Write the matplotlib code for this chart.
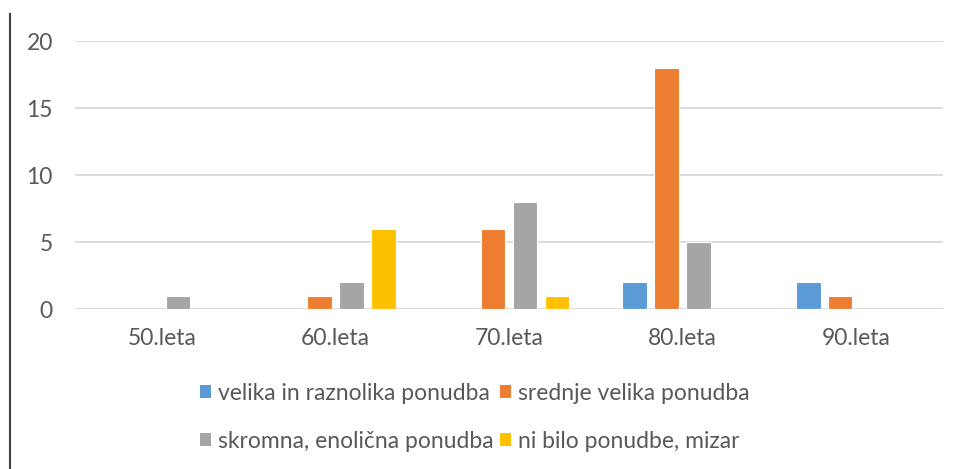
import matplotlib.pyplot as plt
import numpy as np
from matplotlib.patches import Patch
from matplotlib.lines import Line2D

categories = ["50.leta", "60.leta", "70.leta", "80.leta", "90.leta"]
series_names = ["velika in raznolika ponudba", "srednje velika ponudba",
                "skromna, enolična ponudba", "ni bilo ponudbe, mizar"]
velika = [0, 0, 0, 2, 2]
srednje = [0, 1, 6, 18, 1]
skromna = [1, 2, 8, 5, 0]
ni_bilo = [0, 6, 1, 0, 0]
colors = ["#5B9BD5", "#ED7D31", "#A5A5A5", "#FFC000"]

plt.rcParams['font.family'] = ['Lato', 'DejaVu Sans']
text_col = "#595959"

fig = plt.figure(figsize=(9.61, 4.69), dpi=100)
ax = fig.add_axes([75 / 961, 160 / 469, 868 / 961, 268 / 469])

x = np.arange(len(categories))
step = 0.184
width = 0.141
for i, vals in enumerate([velika, srednje, skromna, ni_bilo]):
    ax.bar(x + (i - 1.5) * step, vals, width, color=colors[i],
           edgecolor="white", linewidth=0.8, zorder=3)

ax.set_xlim(-0.5, len(categories) - 0.5)
ax.set_ylim(0, 20)
ax.set_yticks([0, 5, 10, 15, 20])
ax.set_xticks(x)
ax.set_xticklabels(categories)
ax.grid(axis="y", color="#D9D9D9", linewidth=1.3, zorder=0)
ax.set_axisbelow(True)
for s in ax.spines.values():
    s.set_visible(False)
ax.tick_params(length=0, labelsize=16.5, colors=text_col)
ax.tick_params(axis="y", pad=16)
ax.tick_params(axis="x", pad=14)

# legend: row-major order for 2 columns
order = [0, 2, 1, 3]
handles = [Patch(facecolor=colors[i], edgecolor="none") for i in order]
labels = [series_names[i] for i in order]
ax.legend(handles, labels, ncol=2, frameon=False, fontsize=16.5,
          labelcolor=text_col, handlelength=0.5, handleheight=0.5,
          handletextpad=0.3, columnspacing=0.25, labelspacing=1.17,
          loc="upper left", bbox_to_anchor=(200 / 961, 1 - 383 / 469),
          bbox_transform=fig.transFigure, borderaxespad=0, borderpad=0)

fig.add_artist(Line2D([10 / 961, 10 / 961], [0, 1 - 14 / 469],
                      transform=fig.transFigure, color="#404040", linewidth=1.5))

fig.savefig("out.png", dpi=100)
